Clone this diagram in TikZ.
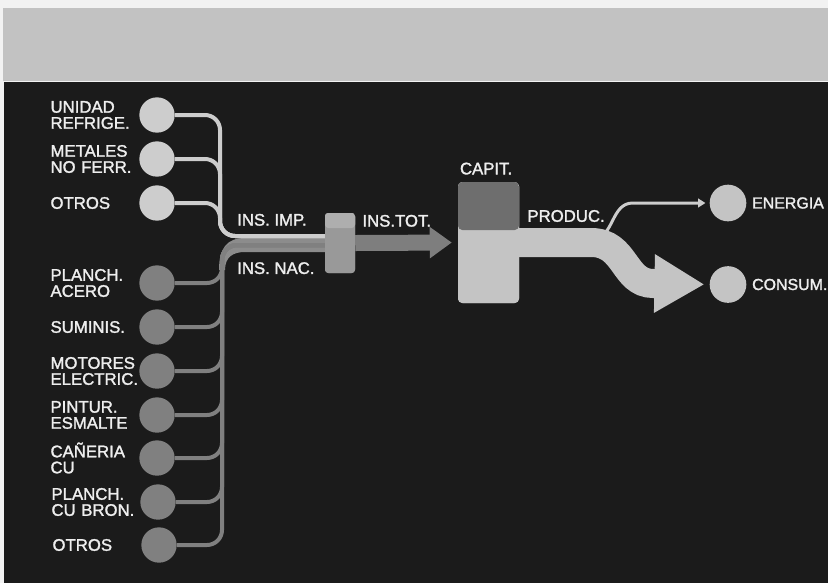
\documentclass[tikz,border=0pt]{standalone}
\usepackage{fontspec}
\setmainfont{Liberation Sans}
\newfontfamily\signfont{Liberation Sans}[FakeBold=1.6]
\definecolor{PaperWhite}{HTML}{F2F2F2}
\definecolor{StripGray}{HTML}{C2C2C2}
\definecolor{PanelBlack}{HTML}{1B1B1B}
\definecolor{ImpGray}{HTML}{CDCDCD}
\definecolor{NacGray}{HTML}{808080}
\definecolor{BandGray}{HTML}{8C8C8C}
\definecolor{TotGray}{HTML}{7E7E7E}
\definecolor{BoxGray}{HTML}{999999}
\definecolor{BoxTopGray}{HTML}{AEAEAE}
\definecolor{CapDark}{HTML}{6E6E6E}
\definecolor{CapLight}{HTML}{C4C4C4}
\definecolor{LabelWhite}{HTML}{EEEEEE}
\usetikzlibrary{arrows.meta,positioning,calc}
\tikzset{
  impNode/.style={circle, fill=ImpGray, minimum size=10.6mm, inner sep=0pt},
  nacNode/.style={circle, fill=NacGray, minimum size=10.6mm, inner sep=0pt},
  endNode/.style={circle, fill=CapLight, minimum size=11mm, inner sep=0pt},
  srcLabel/.style={text=LabelWhite, text width=25.5mm, align=left, inner sep=0pt, font=\signfont\fontsize{14.3pt}{13.7pt}\selectfont},
  flowLabel/.style={text=LabelWhite, inner sep=0pt, font=\signfont\fontsize{14.3pt}{13.7pt}\selectfont},
  endLabel/.style={text=LabelWhite, inner sep=0pt, font=\signfont\fontsize{13.6pt}{13.7pt}\selectfont},
  insBox/.style={fill=BoxGray, rounded corners=1mm, minimum width=9mm, minimum height=18mm, inner sep=0pt,
    path picture={\fill[BoxTopGray] (path picture bounding box.north west) rectangle ([yshift=-4.5mm]path picture bounding box.north east);}},
  capBox/.style={fill=CapLight, rounded corners=1.3mm, minimum width=18.3mm, minimum height=36.3mm, inner sep=0pt,
    path picture={\fill[CapDark] (path picture bounding box.north west) rectangle ([yshift=-14.4mm]path picture bounding box.north east);}},
  impEdge/.style={draw=ImpGray, line width=1.2mm, rounded corners=4.5mm},
  nacEdge/.style={draw=NacGray, line width=1.2mm, rounded corners=4.5mm},
  totArrow/.style={-{Triangle[length=6.6mm,width=9mm]}, draw=TotGray, line width=4.8mm, shorten >=1.8mm},
  prodArrow/.style={-{Triangle[length=15mm,width=16.5mm]}, draw=CapLight, line width=8.7mm, shorten >=1.5mm},
  energyEdge/.style={-{Triangle[length=2.2mm,width=2.6mm]}, draw=ImpGray, line width=0.9mm, shorten >=1.2mm}
}
\begin{document}
\begin{tikzpicture}[x=0.3mm,y=-0.3mm]
\useasboundingbox (0,0) rectangle (828,583);
\fill[PaperWhite] (0,0) rectangle (828,583);
\fill[StripGray] (3,8) rectangle (828,81);
\fill[PanelBlack] (4,82) rectangle (828,583);

\node[impNode] (u1) at (157,115) {};
\node[impNode] (u2) at (157,159) {};
\node[impNode] (u3) at (157,203) {};
\node[nacNode] (n1) at (157,283) {};
\node[nacNode] (n2) at (157,327) {};
\node[nacNode] (n3) at (157,371) {};
\node[nacNode] (n4) at (157,415) {};
\node[nacNode] (n5) at (157,458) {};
\node[nacNode] (n6) at (158,502) {};
\node[nacNode] (n7) at (159,545) {};

\node[srcLabel, left=1mm of u1] (u1l) {UNIDAD\\REFRIGE.};
\node[srcLabel, left=1mm of u2] (u2l) {METALES\\NO FERR.};
\node[srcLabel, left=1mm of u3] (u3l) {OTROS};
\node[srcLabel, left=1mm of n1] (n1l) {PLANCH.\\ACERO};
\node[srcLabel, left=1mm of n2] (n2l) {SUMINIS.};
\node[srcLabel, left=1mm of n3] (n3l) {MOTORES\\ELECTRIC.};
\node[srcLabel, left=1mm of n4] (n4l) {PINTUR.\\ESMALTE};
\node[srcLabel, left=1mm of n5] (n5l) {CAÑERIA\\CU};
\node[srcLabel, left=1mm of n6] (n6l) {PLANCH.\\CU BRON.};
\node[srcLabel, left=1mm of n7] (n7l) {OTROS};

\node[insBox] (insbox) at (340,243) {};
\node[capBox] (capit) at (488.5,242.5) {};
\node[endNode] (energia) at (728,203) {};
\node[endNode] (consum) at (728,284.5) {};
\coordinate (impjoin) at (220,236);
\coordinate (nacjoin) at (222,245);
\coordinate (prodsplit) at (594,238);

\fill[BandGray] (219,270) .. controls (219,248) and (227,238) .. (245,238) -- (326,238)
  -- (326,252) -- (245,252) .. controls (233,252) and (225,257) .. (225,270) -- cycle;
\draw[nacEdge] (n1.east) -| (nacjoin) -- (insbox.west |- nacjoin);
\draw[nacEdge] (n2.east) -| (nacjoin) -- (insbox.west |- nacjoin);
\draw[nacEdge] (n3.east) -| (nacjoin) -- (insbox.west |- nacjoin);
\draw[nacEdge] (n4.east) -| (nacjoin) -- (insbox.west |- nacjoin);
\draw[nacEdge] (n5.east) -| (nacjoin) -- (insbox.west |- nacjoin);
\draw[nacEdge] (n6.east) -| (nacjoin) -- (insbox.west |- nacjoin);
\draw[nacEdge] (n7.east) -| (nacjoin) -- (insbox.west |- nacjoin);
\draw[impEdge] (u1.east) -| (impjoin) -- (insbox.west |- impjoin);
\draw[impEdge] (u2.east) -| (impjoin) -- (insbox.west |- impjoin);
\draw[impEdge] (u3.east) -| (impjoin) -- (insbox.west |- impjoin);
\node[insBox] at (insbox) {};

\draw[totArrow] (insbox.east) -- (capit.west);
\draw[energyEdge] (prodsplit) .. controls +(20,0) and +(-22,0) .. ([xshift=-23mm]energia.west) -- (energia.west);
\draw[prodArrow] (capit.east) -- ++(72,0) .. controls +(35,0) and +(-30,0) .. ++(62,41) -- (consum.west);
\node[capBox] at (capit) {};

\node[flowLabel, above right=3mm and 5.1mm of impjoin] (impl) {INS. IMP.};
\node[flowLabel, below right=5.1mm and 4.5mm of nacjoin] (nacl) {INS. NAC.};
\node[flowLabel, above right=4.8mm and 2.1mm of insbox.east] (totl) {INS.TOT.};
\node[flowLabel, above right=2.1mm and 0.6mm of capit.north west] (capl) {CAPIT.};
\node[flowLabel, above right=6.1mm and 2.4mm of capit.east] (prodl) {PRODUC.};
\node[endLabel, right=1.6mm of energia] (energl) {ENERGIA};
\node[endLabel, right=1.6mm of consum] (consl) {CONSUM.};
\end{tikzpicture}
\end{document}
